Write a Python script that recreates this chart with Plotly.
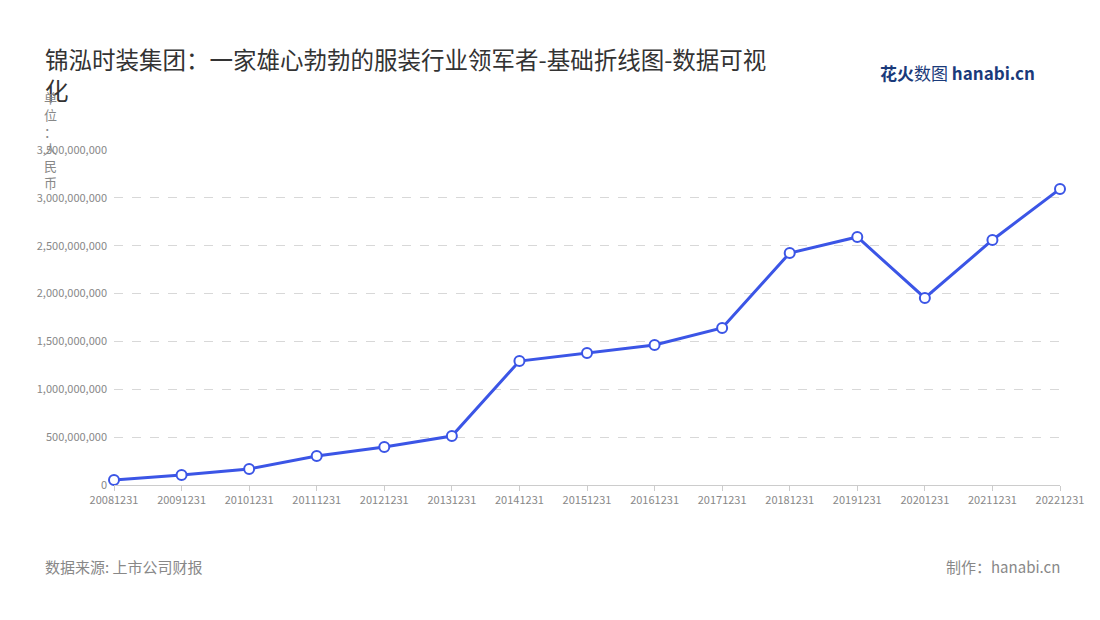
import plotly.graph_objects as go

dates = ["20081231","20091231","20101231","20111231","20121231","20131231","20141231",
         "20151231","20161231","20171231","20181231","20191231","20201231","20211231","20221231"]
values = [52e6,104e6,167e6,303e6,397e6,512e6,1295e6,1379e6,1463e6,1640e6,2424e6,2591e6,1954e6,2560e6,3093e6]
tickvals = [0,5e8,1e9,1.5e9,2e9,2.5e9,3e9,3.5e9]
ticktext = ["0","500,000,000","1,000,000,000","1,500,000,000","2,000,000,000","2,500,000,000","3,000,000,000","3,500,000,000"]

font = "Noto Sans CJK SC"
OFF = 8  # page body margin offset
W, H = 1100, 620
pl, pr, pt, pb = 114 - OFF, 40 + OFF, 150 - OFF, 135 + OFF
fig = go.Figure(go.Scatter(
    x=dates, y=values, mode="lines+markers",
    line=dict(color="#3b55e6", width=3),
    marker=dict(size=10, color="white", line=dict(color="#3b55e6", width=2)),
    cliponaxis=False,
))
fig.update_layout(
    width=W, height=H, plot_bgcolor="white", paper_bgcolor="white",
    margin=dict(l=pl, r=pr, t=pt, b=pb),
    font=dict(family=font, color="#888"),
    showlegend=False,
    xaxis=dict(type="category", showgrid=False, showline=True, linecolor="#ccc",
               ticks="outside", tickcolor="#ccc", tickfont=dict(size=11, color="#888"),
               range=[0, 14]),
    yaxis=dict(range=[0, 3.5e9], tickvals=tickvals, ticktext=ticktext, showgrid=True,
               gridcolor="#d8d8d8", griddash="dash", zeroline=False, ticklabelstandoff=6,
               tickfont=dict(size=11, color="#888")),
)
pw, ph = W - pl - pr, H - pt - pb
def px(x): return (x - OFF - pl) / pw
def py(y): return (H - pb - (y - OFF)) / ph
specs = [
    ("锦泓时装集团：一家雄心勃勃的服装行业领军者-基础折线图-数据可视<br>化", 43, 40, "left", "top", 23.5, "#333"),
    ("单<br>位<br>：<br>人<br>民<br>币", 50, 86, "center", "top", 13, "#888"),
    ("数据来源: 上市公司财报", 43, 566, "left", "middle", 15, "#888"),
    ("制作：hanabi.cn", 1062, 566, "right", "middle", 15, "#888"),
    ("<b>花火</b>数图 <b>hanabi.cn</b>", 1037, 72, "right", "middle", 17, "#1a3a7a"),
]
fig.layout.annotations = [
    dict(text=t, x=px(x), y=py(y), xref="paper", yref="paper", showarrow=False,
         xanchor=xa, yanchor=ya, align="left", font=dict(size=s, color=c, family=font))
    for t, x, y, xa, ya, s, c in specs
]
fig.write_html("out.html")
